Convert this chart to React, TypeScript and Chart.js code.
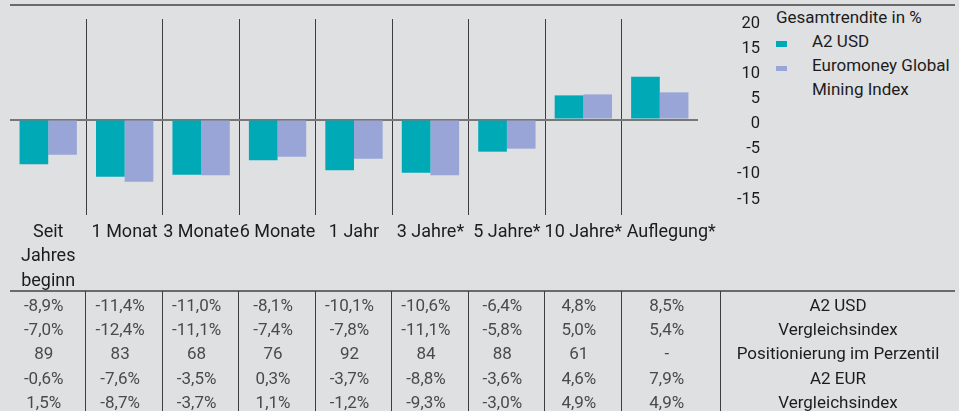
import React, { useEffect, useRef } from 'react';
import { Chart, registerables } from 'chart.js';

Chart.register(...registerables);

const categories: (string | string[])[] = [
  ['Seit', 'Jahres', 'beginn'],
  '1 Monat',
  '3 Monate',
  '6 Monate',
  '1 Jahr',
  '3 Jahre*',
  '5 Jahre*',
  '10 Jahre*',
  'Auflegung*',
];
const a2Usd = [-8.9, -11.4, -11.0, -8.1, -10.1, -10.6, -6.4, 4.8, 8.5];
const vergleichUsd = [-7.0, -12.4, -11.1, -7.4, -7.8, -11.1, -5.8, 5.0, 5.4];
const perzentil = ['89', '83', '68', '76', '92', '84', '88', '61', '-'];
const a2Eur = [-0.6, -7.6, -3.5, 0.3, -3.7, -8.8, -3.6, 4.6, 7.9];
const vergleichEur = [1.5, -8.7, -3.7, 1.1, -1.2, -9.3, -3.0, 4.9, 4.9];
const yTicks = [20, 15, 10, 5, 0, -5, -10, -15];
const rowLabels = ['A2 USD', 'Vergleichsindex', 'Positionierung im Perzentil', 'A2 EUR', 'Vergleichsindex'];
const legendTitle = 'Gesamtrendite in %';
const seriesNames = ['A2 USD', 'Euromoney Global Mining Index'];

const TEAL = '#00a9b6';
const PURPLE = '#99a5d6';
const BG = '#dfe0e2';
const FONT = 'Roboto, "Liberation Sans", sans-serif';

const fmt = (v: number) => v.toFixed(1).replace('.', ',') + '%';

const PLOT_LEFT = 10;
const PLOT_RIGHT = 698;
const COL_W = (PLOT_RIGHT - PLOT_LEFT) / categories.length;
const TABLE_LAST_COL_RIGHT = 721;

// the last category label is centred in the (wider) last table column
const shiftLastLabel = {
  id: 'shiftLastLabel',
  beforeDraw(chart: any) {
    const scale = chart.scales.x;
    const items = scale.getLabelItems(chart.chartArea);
    const last = items[items.length - 1];
    if (last && !last._shifted) {
      const lastLeft = scale.getPixelForTick(items.length - 1) - COL_W / 2;
      last.options.translation[0] = (lastLeft + TABLE_LAST_COL_RIGHT) / 2;
      last._shifted = true;
    }
  },
};

export default function App() {
  const ref = useRef<HTMLCanvasElement>(null);

  useEffect(() => {
    const chart = new Chart(ref.current!, {
      type: 'bar',
      data: {
        labels: categories,
        datasets: [
          {
            label: seriesNames[0],
            data: a2Usd,
            backgroundColor: TEAL,
            categoryPercentage: 0.75,
            barPercentage: 1,
          },
          {
            label: seriesNames[1],
            data: vergleichUsd,
            backgroundColor: PURPLE,
            categoryPercentage: 0.75,
            barPercentage: 1,
          },
        ],
      },
      plugins: [shiftLastLabel],
      options: {
        responsive: false,
        maintainAspectRatio: false,
        animation: false,
        devicePixelRatio: 1,
        layout: { padding: { left: PLOT_LEFT, top: 19, right: 0, bottom: 0 } },
        plugins: {
          legend: { display: false },
          tooltip: { enabled: false },
        },
        scales: {
          x: {
            grid: {
              offset: true,
              drawTicks: false,
              lineWidth: 1,
              color: (c: any) => (c.type === 'tick' && c.index > 0 ? '#3e3e3e' : 'rgba(0,0,0,0)'),
            },
            border: { display: false },
            ticks: {
              autoSkip: false,
              maxRotation: 0,
              minRotation: 0,
              padding: 5,
              color: '#1c1c1c',
              font: { family: FONT, size: 18, lineHeight: '24.5px' },
            },
            afterFit: (s: any) => {
              s.height = 85;
              s.paddingLeft = 0;
              s.paddingRight = 0;
            },
          },
          y: {
            position: 'right',
            min: -19,
            max: 20,
            grid: {
              drawTicks: false,
              lineWidth: 2,
              color: (c: any) => (c.tick && c.tick.value === 0 ? '#777777' : 'rgba(0,0,0,0)'),
            },
            border: { display: false },
            ticks: {
              crossAlign: 'far',
              padding: 17,
              color: '#1c1c1c',
              font: { family: FONT, size: 16.5, lineHeight: '9px' },
              callback: (v: any) => ['', String(v)],
            },
            afterBuildTicks: (s: any) => {
              s.ticks = yTicks.map((v) => ({ value: v }));
            },
            afterFit: (s: any) => {
              s.width = 62;
              s.paddingTop = 0;
              s.paddingBottom = 0;
            },
          },
        },
      },
    } as any);
    return () => chart.destroy();
  }, []);

  const tableRows: string[][] = [
    a2Usd.map(fmt),
    vergleichUsd.map(fmt),
    perzentil,
    a2Eur.map(fmt),
    vergleichEur.map(fmt),
  ];

  const abs = (s: React.CSSProperties): React.CSSProperties => ({ position: 'absolute', ...s });
  const colLeft = (k: number) => PLOT_LEFT + k * COL_W;
  const colWidth = (k: number) => (k === categories.length - 1 ? TABLE_LAST_COL_RIGHT - colLeft(k) : COL_W);

  return (
    <div style={{ position: 'relative', width: 959, height: 411, background: BG, overflow: 'hidden', fontFamily: FONT }}>
      <style>{'body{margin:0;}'}</style>
      <div style={abs({ left: 10, top: 4, width: 945, height: 2, background: '#6a6a6a' })} />
      <canvas ref={ref} width={760} height={300} style={abs({ left: 0, top: 0, width: 760, height: 300 })} />

      {/* legend */}
      <div style={abs({ left: 776, top: 5, fontSize: 17, lineHeight: '24px', color: '#1c1c1c', whiteSpace: 'nowrap' })}>
        {legendTitle}
      </div>
      <div style={abs({ left: 776, top: 41, width: 11, height: 6, background: TEAL })} />
      <div style={abs({ left: 812, top: 29, fontSize: 17, lineHeight: '24px', color: '#1c1c1c', whiteSpace: 'nowrap' })}>
        {seriesNames[0]}
      </div>
      <div style={abs({ left: 776, top: 66, width: 11, height: 5, background: PURPLE })} />
      <div style={abs({ left: 812, top: 52.5, width: 145, fontSize: 17, lineHeight: '24px', color: '#1c1c1c' })}>
        {seriesNames[1]}
      </div>

      {/* table */}
      <div style={abs({ left: 10, top: 290, width: 945, height: 2, background: '#6a6a6a' })} />
      {categories.slice(1).map((_, k) => (
        <div key={'d' + k} style={abs({ left: Math.round(colLeft(k + 1)) - 1, top: 291, width: 1, height: 120, background: '#3e3e3e' })} />
      ))}
      <div style={abs({ left: TABLE_LAST_COL_RIGHT - 1, top: 291, width: 1, height: 120, background: '#3e3e3e' })} />
      {tableRows.map((row, r) => (
        <React.Fragment key={'r' + r}>
          {row.map((cell, k) => (
            <div
              key={k}
              style={abs({
                left: colLeft(k),
                top: 293 + r * 24.2,
                width: colWidth(k) - 9,
                textAlign: 'center',
                fontSize: 17,
                lineHeight: '24px',
                color: '#4a4a4a',
              })}
            >
              {cell}
            </div>
          ))}
          <div
            style={abs({
              left: TABLE_LAST_COL_RIGHT,
              top: 293 + r * 24.2,
              width: 234,
              textAlign: 'center',
              fontSize: 17,
              lineHeight: '24px',
              color: '#1c1c1c',
              whiteSpace: 'nowrap',
            })}
          >
            {rowLabels[r]}
          </div>
        </React.Fragment>
      ))}
    </div>
  );
}
